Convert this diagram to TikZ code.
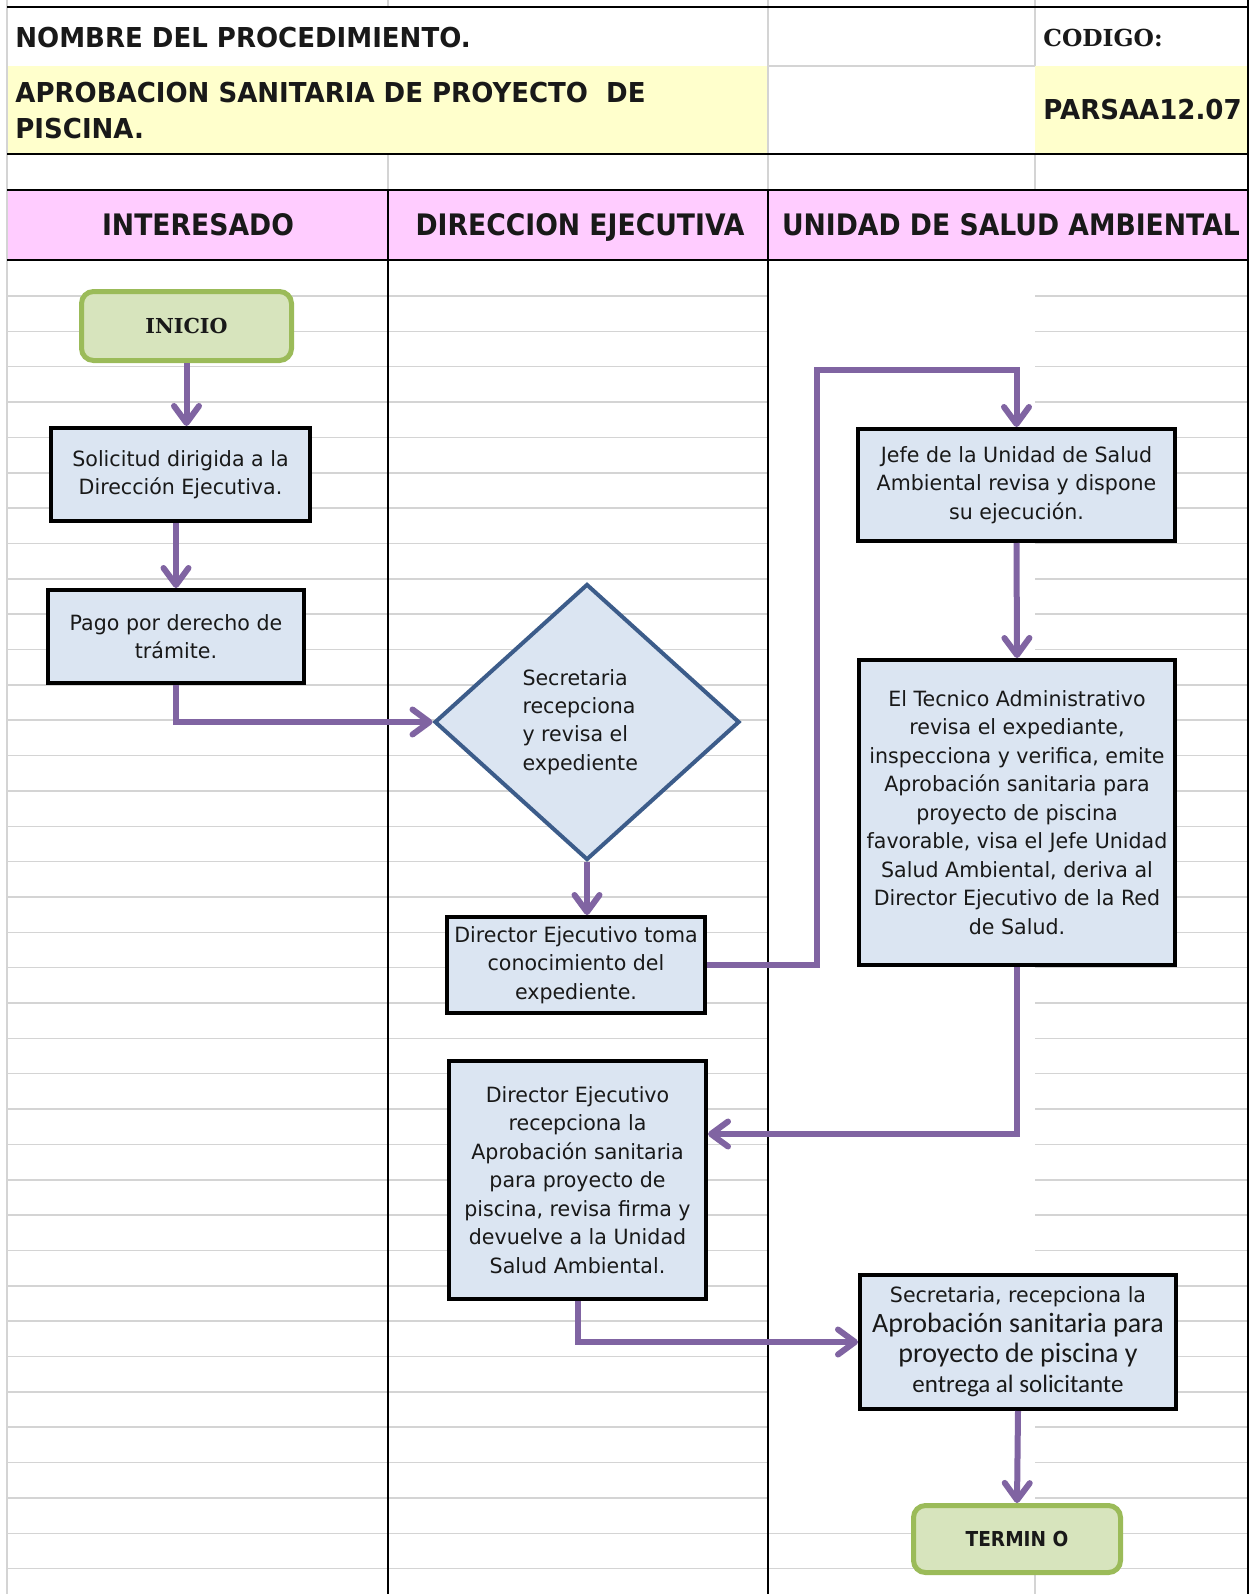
\documentclass[tikz,border=0pt]{standalone}
\usepackage{fontspec}
\usepackage{tikz}
\usetikzlibrary{arrows.meta,shapes.geometric}

\newfontfamily\fuentesans[FakeStretch=0.9]{DejaVu Sans}
\newfontfamily\fuentecuerpo[FakeStretch=0.98]{DejaVu Sans}
\newfontfamily\fuenteancha[FakeStretch=0.95]{DejaVu Sans}
\newfontfamily\fuenteserif{DejaVu Serif}
\newfontfamily\fuentecal{Carlito}

\definecolor{flecha}{RGB}{128,100,162}
\definecolor{cajafondo}{RGB}{219,229,242}
\definecolor{rombo}{RGB}{60,92,138}
\definecolor{verdefondo}{RGB}{215,228,189}
\definecolor{verdeborde}{RGB}{155,187,89}
\definecolor{rosado}{RGB}{255,204,255}
\definecolor{amarillo}{RGB}{255,255,204}
\definecolor{rejilla}{RGB}{212,212,212}

\begin{document}
\begin{tikzpicture}[
						x=0.5pt, y=-0.5pt,
						every node/.style={inner sep=2pt, text=black!90},
						caja/.style={draw=black, line width=2pt, fill=cajafondo, align=center,
							font=\fuentecuerpo\fontsize{10.5}{14.25}\selectfont},
						decision/.style={diamond, draw=rombo, line width=2pt, fill=cajafondo, align=left,
							font=\fuentecuerpo\fontsize{10.5}{14.15}\selectfont},
						extremo/.style={draw=verdeborde, line width=2.5pt, fill=verdefondo, rounded corners=6pt},
						encabezado/.style={font=\fuentesans\bfseries\fontsize{14.8}{18}\selectfont, inner sep=0pt},
						titulo/.style={font=\fuenteancha\bfseries\fontsize{13.7}{18}\selectfont, inner sep=0pt, align=left},
						flujo/.style={draw=flecha, line width=3pt, -{Straight Barb[length=8.5pt,width=12.5pt,round]}},
						borde/.style={line width=1pt, black},
						rejillagris/.style={line width=0.75pt, rejilla}
						]
						
						\useasboundingbox (0,0) rectangle (1255,1594);
						\fill[white] (0,0) rectangle (1255,1594);
						
						% Fills of the header cells
						\fill[amarillo] (7,66) rectangle (768,154);
						\fill[amarillo] (1035,66) rectangle (1248,154);
						\fill[rosado] (7,190) rectangle (1248,260);
						
						% Light cell borders
						\draw[rejillagris] (7,0) -- (7,1594);
						\draw[rejillagris] (388,0) -- (388,7);
						\draw[rejillagris] (388,154) -- (388,190);
						\draw[rejillagris] (768,0) -- (768,190);
						\draw[rejillagris] (1035,0) -- (1035,66);
						\draw[rejillagris] (1035,154) -- (1035,190);
						\draw[rejillagris] (768,66) -- (1035,66);
						\draw[rejillagris] (1035,1515) -- (1035,1594);
						
						% Spreadsheet rows
						\foreach \k in {0,...,36}{
							\pgfmathsetmacro\yy{296+35.35*\k}
							\draw[rejillagris] (7,\yy) -- (768,\yy);
						}
						\foreach \k in {0,...,34}{
							\pgfmathsetmacro\yy{296+35.35*\k}
							\draw[rejillagris] (1035,\yy) -- (1248,\yy);
						}
						\foreach \k in {35,36}{
							\pgfmathsetmacro\yy{296+35.35*\k}
							\draw[rejillagris] (768,\yy) -- (1248,\yy);
						}
						
						% Table lines
						\draw[borde] (7,7) -- (1248,7);
						\draw[borde] (7,154) -- (1248,154);
						\draw[borde] (7,190) -- (1248,190);
						\draw[borde] (7,260) -- (1248,260);
						\draw[borde] (388,190) -- (388,1594);
						\draw[borde] (768,190) -- (768,1594);
						\draw[borde] (1248,0) -- (1248,1594);
						
						% Header text
						\node[titulo, anchor=base west] (nombre) at (15,48) {NOMBRE DEL PROCEDIMIENTO.};
						\node[titulo, anchor=west] (proyecto) at (15,111) {APROBACION SANITARIA DE PROYECTO\ \ DE\\PISCINA.};
						\node[anchor=base west, inner sep=0pt, font=\fuenteserif\bfseries\fontsize{11.7}{14}\selectfont] (codigo) at (1043,47) {CODIGO:};
						\node[titulo, anchor=base west] (clave) at (1043,120) {PARSAA12.07};
						
						% Lane headers
						\node[encabezado, anchor=base] (interesado) at (198,235) {INTERESADO};
						\node[encabezado, anchor=base] (direccion) at (580,235) {DIRECCION EJECUTIVA};
						\node[encabezado, anchor=base] (unidad) at (1011,235) {UNIDAD DE SALUD AMBIENTAL};
						
						% Steps
						\node[extremo, minimum width=105pt, minimum height=34.5pt,
							font=\fuenteserif\bfseries\fontsize{10.3}{12}\selectfont] (inicio) at (186.5,326) {INICIO};
						\node[caja, minimum width=129.5pt, minimum height=46.5pt] (solicitud) at (180.5,474.5)
							{Solicitud dirigida a la\\Dirección Ejecutiva.};
						\node[caja, minimum width=128pt, minimum height=46.5pt] (pago) at (176,636.5)
							{Pago por derecho de\\trámite.};
						\node[decision, minimum width=152.5pt, minimum height=138pt] (secretaria) at (587,722)
							{Secretaria\\recepciona\rule{8pt}{0pt}\\y revisa el\\expediente};
						\node[caja, minimum width=129pt, minimum height=48pt] (director) at (576,965)
							{Director Ejecutivo toma\\conocimiento del\\expediente.};
						\node[caja, minimum width=158.5pt, minimum height=56pt] (jefe) at (1016.5,485)
							{Jefe de la Unidad de Salud\\Ambiental revisa y dispone\\su ejecución.};
						\node[caja, minimum width=158pt, minimum height=152.5pt] (tecnico) at (1017,812.5)
							{El Tecnico Administrativo\\revisa el expediante,\\inspecciona y verifica, emite\\Aprobación sanitaria para\\proyecto de piscina\\favorable, visa el Jefe Unidad\\Salud Ambiental, deriva al\\Director Ejecutivo de la Red\\de Salud.};
						\node[caja, minimum width=128.5pt, minimum height=119pt] (aprobacion) at (577.5,1180)
							{Director Ejecutivo\\recepciona la\\Aprobación sanitaria\\para proyecto de\\piscina, revisa firma y\\devuelve a la Unidad\\Salud Ambiental.};
						\node[caja, minimum width=158pt, minimum height=67pt,
							font=\fuentecal\fontsize{14}{15}\selectfont] (entrega) at (1018,1342)
							{{\fuentecuerpo\fontsize{10.5}{15}\selectfont Secretaria, recepciona la}\\Aprobación sanitaria para\\proyecto de piscina y\\{\fontsize{12.5}{15}\selectfont entrega al solicitante}};
						\node[extremo, minimum width=103.5pt, minimum height=33.5pt,
							font=\fuentesans\bfseries\fontsize{10.3}{12}\selectfont] (termino) at (1017,1539) {TERMIN O};
						
						% Connectors
						\coordinate (lazo) at (817,370);
						\draw[flujo] (inicio.south) -- (inicio.south |- solicitud.north);
						\draw[flujo] (pago.north |- solicitud.south) -- (pago.north);
						\draw[flujo] (pago.south) |- (secretaria.west);
						\draw[flujo] (secretaria.south) -- (secretaria.south |- director.north);
						\draw[flujo] (director.east) -| (lazo) -| (jefe.north);
						\draw[flujo] (jefe.south) -- (tecnico.north);
						\draw[flujo] (tecnico.south) |- ([yshift=23pt]aprobacion.east);
						\draw[flujo] (aprobacion.south) |- (entrega.west);
						\draw[flujo] (entrega.south) -- (termino.north);
						
					\end{tikzpicture}
\end{document}
